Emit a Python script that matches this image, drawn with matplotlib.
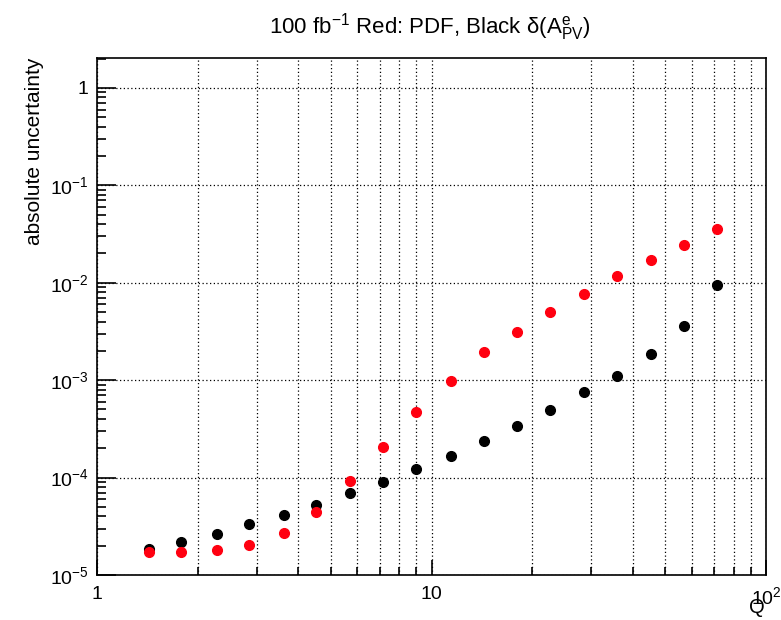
import numpy as np
import matplotlib
matplotlib.use("Agg")
import matplotlib.pyplot as plt
from matplotlib.ticker import LogLocator, FixedLocator, FuncFormatter, NullFormatter

plt.rcParams['font.family'] = ['Liberation Sans', 'DejaVu Sans']
plt.rcParams['mathtext.fontset'] = 'custom'
plt.rcParams['mathtext.rm'] = 'Liberation Sans'
plt.rcParams['mathtext.it'] = 'Liberation Sans'
plt.rcParams['mathtext.bf'] = 'Liberation Sans:bold'

# bin centres in Q
Q = [1.43, 1.78, 2.28, 2.85, 3.62, 4.52, 5.71, 7.16, 9.0, 11.4,
     14.4, 18.0, 22.6, 28.6, 35.9, 45.3, 56.9, 71.4]
# black: delta(A_PV^e)
d_apv = [1.85e-5, 2.18e-5, 2.64e-5, 3.34e-5, 4.13e-5, 5.23e-5, 6.95e-5, 9.0e-5,
         1.22e-4, 1.67e-4, 2.38e-4, 3.39e-4, 4.94e-4, 7.57e-4, 1.10e-3, 1.86e-3,
         3.6e-3, 9.5e-3]
# red: PDF
d_pdf = [1.72e-5, 1.72e-5, 1.80e-5, 2.03e-5, 2.70e-5, 4.43e-5, 9.2e-5, 2.06e-4,
         4.7e-4, 9.8e-4, 1.94e-3, 3.1e-3, 4.95e-3, 7.6e-3, 1.18e-2, 1.72e-2,
         2.45e-2, 3.55e-2]

fig = plt.figure(figsize=(7.81, 6.2), dpi=100)
ax = fig.add_axes([0.1242, 0.0726, 0.8566, 0.8339])

ax.plot(Q, d_apv, 'o', color='black', ms=7, mec='black', zorder=3)
ax.plot(Q, d_pdf, 'o', color='#ff0010', ms=7, mec='#ff0010', zorder=4)

ax.set_xscale('log')
ax.set_yscale('log')
ax.set_xlim(1, 100)
ax.set_ylim(1e-5, 2.03)

def logfmt(v, pos):
    e = int(round(np.log10(v)))
    if e == 0:
        return '1'
    if e == 1:
        return '10'
    return r'$10^{%d}$' % e

ax.xaxis.set_major_locator(FixedLocator([1, 10, 100]))
ax.xaxis.set_minor_locator(LogLocator(base=10, subs=np.arange(2, 10), numticks=20))
ax.yaxis.set_major_locator(FixedLocator([1e-5, 1e-4, 1e-3, 1e-2, 1e-1, 1]))
ax.yaxis.set_minor_locator(LogLocator(base=10, subs=np.arange(2, 10), numticks=20))
ax.xaxis.set_major_formatter(FuncFormatter(logfmt))
ax.yaxis.set_major_formatter(FuncFormatter(logfmt))
ax.xaxis.set_minor_formatter(NullFormatter())
ax.yaxis.set_minor_formatter(NullFormatter())

ax.tick_params(which='both', direction='in', top=False, right=False, labelsize=14)
ax.tick_params(axis='y', which='major', length=14, width=1.2, pad=6)
ax.tick_params(axis='y', which='minor', length=6.5, width=1.2)
ax.tick_params(axis='x', which='major', length=11, width=1.2, pad=8)
ax.tick_params(axis='x', which='minor', length=6, width=1.2)

ax.grid(True, which='major', axis='y', ls=(0, (1, 2)), color='black', lw=0.9)
ax.grid(True, which='both', axis='x', ls=(0, (1, 2)), color='black', lw=0.9)

for s in ax.spines.values():
    s.set_linewidth(1.2)

ax.set_ylabel('absolute uncertainty', fontsize=15, loc='top', labelpad=4)
# x title sits at the lower right corner, like ROOT draws it
fig.text(0.969, 0.02, 'Q', fontsize=14.5, ha='center', va='center')

fig.text(0.55, 0.957, r'100 fb$^{-1}$ Red: PDF, Black δ($\mathrm{A}^{\mathrm{e}}_{\mathrm{PV}}$)',
         ha='center', va='center', fontsize=16)

fig.savefig('out.png', dpi=100)
